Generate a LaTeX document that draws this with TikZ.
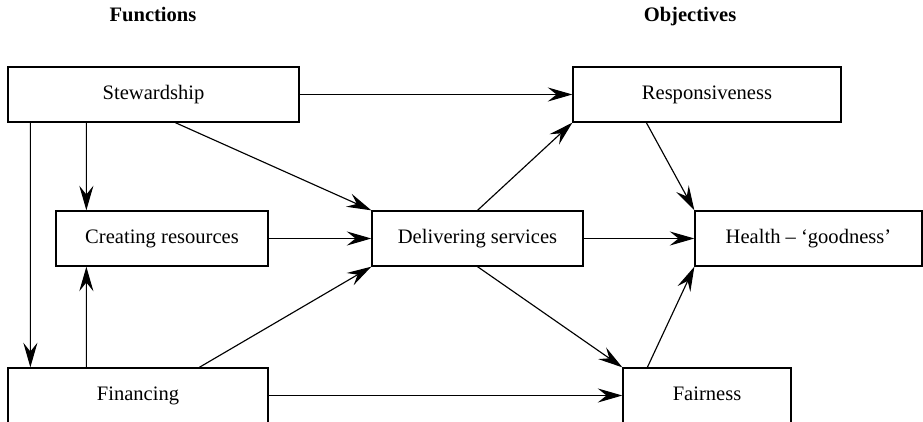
\documentclass[tikz,border=0pt]{standalone}
\usepackage{fontspec}
\setmainfont{Liberation Serif}
\usetikzlibrary{arrows.meta}

\begin{document}
\begin{tikzpicture}[x = 0.02cm, y = -0.02cm,
		font = \fontsize{11.7}{14}\selectfont,
		box/.style = {draw, line width = 0.75pt, inner sep = 0pt, minimum height = 1.1cm,
			text height = 8pt, text depth = 2.6pt},
		arr/.style = {-{Stealth[length = 14pt, width = 8pt, inset = 5pt]}, line width = 0.65pt},
		heading/.style = {font = \fontsize{11.7}{14}\selectfont\bfseries, text height = 8pt, text depth = 2.6pt}]
		% \draw[step=20] (0,0) grid (923,422);
		\useasboundingbox (0,0) rectangle (923,422);
		\node[heading] (t1) at (153, 17){Functions};
		\node[heading] (t2) at (690, 17){Objectives};
		\node[box, minimum width = 5.82cm] (stew) at (153.5, 94.5){Stewardship};
		\node[box, minimum width = 4.24cm] (cre) at (162, 238.5){Creating resources};
		\node[box, minimum width = 5.2cm] (fin) at (138, 395.5){Financing};
		\node[box, minimum width = 4.22cm] (del) at (477.5, 238.5){Delivering services};
		\node[box, minimum width = 5.36cm] (resp) at (707, 94.5){Responsiveness};
		\node[box, minimum width = 4.54cm] (hlth) at (808.5, 238.5){Health -- `goodness'};
		\node[box, minimum width = 3.36cm] (fair) at (707, 395.5){Fairness};
		% functions
		\draw[arr] ([xshift = 1.58cm]stew.south west) -- ([xshift = 0.62cm]cre.north west);
		\draw[arr] ([xshift = 0.46cm]stew.south west) -- ([xshift = 0.46cm]fin.north west);
		\draw[arr] ([xshift = 3.36cm]stew.south west) -- (del.north west);
		\draw[arr] (stew.east) -- (resp.west);
		\draw[arr] ([xshift = 1.58cm]fin.north west) -- ([xshift = 0.62cm]cre.south west);
		\draw[arr] ([xshift = 3.84cm]fin.north west) -- (del.south west);
		\draw[arr] (fin.east) -- (fair.west);
		\draw[arr] (cre.east) -- (del.west);
		% objectives
		\draw[arr] (del.north) -- (resp.south west);
		\draw[arr] (del.east) -- (hlth.west);
		\draw[arr] (del.south) -- (fair.north west);
		\draw[arr] ([xshift = 1.48cm]resp.south west) -- (hlth.north west);
		\draw[arr] ([xshift = 0.5cm]fair.north west) -- (hlth.south west);
\end{tikzpicture}
\end{document}
